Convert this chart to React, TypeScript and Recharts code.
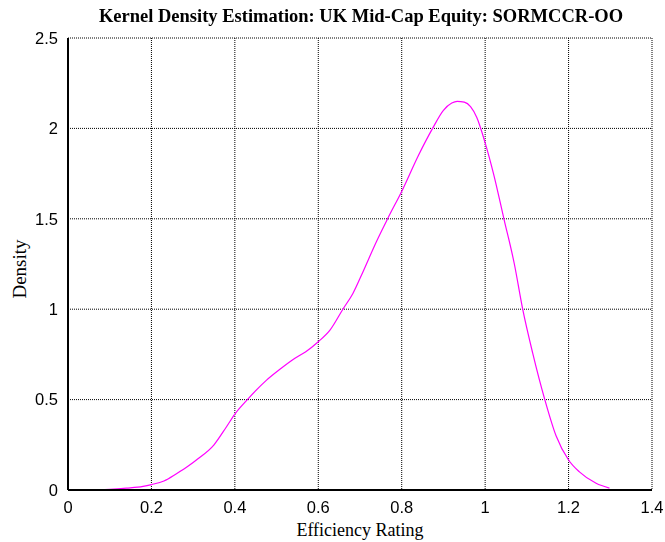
import React from "react"
import { LineChart, Line, XAxis, YAxis, CartesianGrid } from "recharts"

const TITLE = "Kernel Density Estimation: UK Mid-Cap Equity: SORMCCR-OO"
const X_TICKS = [0, 0.2, 0.4, 0.6, 0.8, 1, 1.2, 1.4]
const Y_TICKS = [0, 0.5, 1, 1.5, 2, 2.5]

// efficiency rating (x) and estimated density (y)
const rating = [
  0.072, 0.1, 0.14, 0.18, 0.2, 0.23, 0.26, 0.29, 0.31, 0.35, 0.38, 0.4, 0.43, 0.476, 0.508, 0.544,
  0.57, 0.6, 0.628, 0.659, 0.683, 0.707, 0.739, 0.767, 0.802, 0.84, 0.874, 0.9, 0.92, 0.933, 0.95,
  0.965, 0.98, 1.0, 1.02, 1.045, 1.07, 1.09, 1.114, 1.143, 1.17, 1.2, 1.226, 1.266, 1.298,
]
const density = [
  0, 0.003, 0.01, 0.02, 0.03, 0.05, 0.09, 0.135, 0.17, 0.25, 0.35, 0.42, 0.5, 0.608, 0.668, 0.729,
  0.765, 0.82, 0.884, 1.0, 1.087, 1.206, 1.372, 1.504, 1.661, 1.85, 2.0, 2.1, 2.14, 2.15, 2.145,
  2.12, 2.06, 1.92, 1.75, 1.5, 1.25, 1.0, 0.757, 0.5, 0.3, 0.166, 0.1, 0.037, 0.01,
]

const data = rating.map((x, i) => ({ x, y: density[i] }))

const tickStyle = { fill: "#000", fontSize: 16.5, fontFamily: "Liberation Sans, Arial, sans-serif" }
const serif = "Liberation Serif, Times New Roman, serif"

export default function App() {
  return (
    <div style={{ position: "fixed", left: 0, top: 0, width: 665, height: 542, background: "#fff" }}>
      <div
        style={{
          position: "absolute",
          left: 0,
          width: 722,
          top: 6,
          textAlign: "center",
          fontFamily: serif,
          fontWeight: "bold",
          fontSize: 18.5,
          color: "#000",
          whiteSpace: "nowrap",
        }}
      >
        {TITLE}
      </div>
      <div
        style={{
          position: "absolute",
          left: 68,
          width: 584,
          top: 520,
          textAlign: "center",
          fontFamily: serif,
          fontSize: 18,
          lineHeight: "20px",
          color: "#000",
        }}
      >
        Efficiency Rating
      </div>
      <div
        style={{
          position: "absolute",
          left: 20,
          top: 269,
          transform: "translate(-50%, -50%) rotate(-90deg)",
          fontFamily: serif,
          fontSize: 19,
          color: "#000",
          whiteSpace: "nowrap",
        }}
      >
        Density
      </div>
      <LineChart width={665} height={542} data={data} margin={{ top: 38, right: 13, bottom: 0, left: 0 }}>
        <CartesianGrid stroke="#000" strokeDasharray="1 1" horizontalValues={Y_TICKS} verticalValues={X_TICKS} />
        <XAxis
          dataKey="x"
          type="number"
          domain={[0, 1.4]}
          ticks={X_TICKS}
          height={52}
          tickLine={false}
          axisLine={{ stroke: "#000", strokeWidth: 2 }}
          tick={tickStyle}
          tickMargin={5}
          interval={0}
        />
        <XAxis
          xAxisId="top"
          orientation="top"
          dataKey="x"
          type="number"
          domain={[0, 1.4]}
          height={0}
          tick={false}
          tickLine={false}
          axisLine={{ stroke: "#000", strokeWidth: 1.5 }}
        />
        <YAxis
          type="number"
          domain={[0, 2.5]}
          ticks={Y_TICKS}
          width={68}
          tickLine={false}
          axisLine={{ stroke: "#000", strokeWidth: 2 }}
          tick={tickStyle}
          tickMargin={4}
          interval={0}
        />
        <YAxis
          yAxisId="right"
          orientation="right"
          type="number"
          domain={[0, 2.5]}
          width={0}
          tick={false}
          tickLine={false}
          axisLine={{ stroke: "#000", strokeWidth: 2 }}
        />
        <Line
          dataKey="y"
          type="monotone"
          stroke="#ff00ff"
          strokeWidth={1.2}
          dot={false}
          isAnimationActive={false}
        />
      </LineChart>
    </div>
  )
}
